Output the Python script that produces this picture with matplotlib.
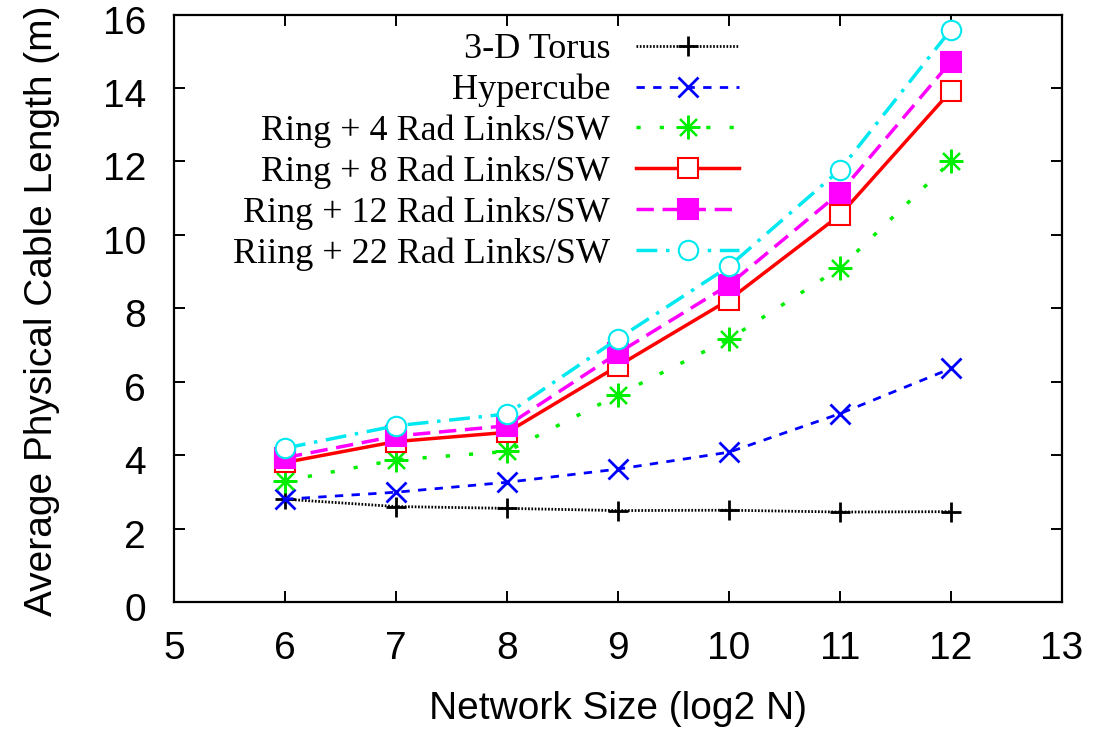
import matplotlib
matplotlib.use("Agg")
import matplotlib.pyplot as plt
import matplotlib.transforms as mtransforms

x = [6, 7, 8, 9, 10, 11, 12]
torus = [2.8, 2.6, 2.55, 2.49, 2.5, 2.45, 2.46]
hypercube = [2.8, 2.99, 3.26, 3.62, 4.08, 5.13, 6.36]
ring4 = [3.3, 3.87, 4.1, 5.64, 7.16, 9.1, 12.0]
ring8 = [3.8, 4.37, 4.62, 6.43, 8.23, 10.54, 13.92]
ring12 = [3.93, 4.52, 4.8, 6.78, 8.64, 11.15, 14.72]
ring22 = [4.19, 4.8, 5.12, 7.17, 9.14, 11.77, 15.59]

labels = ["3-D Torus", "Hypercube", "Ring + 4 Rad Links/SW",
          "Ring + 8 Rad Links/SW", "Ring + 12 Rad Links/SW",
          "Riing + 22 Rad Links/SW"]
xticks = [5, 6, 7, 8, 9, 10, 11, 12, 13]
yticks = [0, 2, 4, 6, 8, 10, 12, 14, 16]

fig = plt.figure(figsize=(10.99, 7.29), dpi=100)
ax = fig.add_axes([174/1099, 1 - 602/729, (1062 - 174)/1099, (602 - 14.5)/729])

lw = 2.0
ms = 14
ax.plot(x, torus, color="black", linestyle=(0, (0.6, 0.6)), lw=lw,
        marker="+", ms=ms + 1, mew=2.0, label=labels[0])
ax.plot(x, hypercube, color="#0000ff", linestyle=(0, (3, 3)), lw=lw,
        marker="x", ms=ms, mew=2.0, label=labels[1])
ax.plot(x, ring4, color="#00ee00", linestyle=(0, (1.2, 5.5)), lw=lw + 0.5,
        marker=(8, 2, 0), ms=ms + 3, mew=1.6, label=labels[2])
ax.plot(x, ring8, color="#ff0000", linestyle="-", lw=lw + 0.5,
        marker="s", ms=ms, mfc="white", mec="#ff0000", mew=1.5, label=labels[3])
ax.plot(x, ring12, color="#ff00ff", linestyle=(0, (5, 2.5)), lw=lw + 0.5,
        marker="s", ms=ms, mfc="#ff00ff", mec="#ff00ff", mew=1.5, label=labels[4])
ax.plot(x, ring22, color="#00e8f0", linestyle=(0, (6, 2.5, 1, 2.5)), lw=lw + 0.5,
        marker="o", ms=ms, mfc="white", mec="#00e8f0", mew=1.5, label=labels[5])

ax.set_xlim(5, 13)
ax.set_ylim(0, 16)
ax.set_xticks(xticks)
ax.set_yticks(yticks)
for s in ax.spines.values():
    s.set_linewidth(1.6)
tickfont = "Liberation Sans"
ax.tick_params(direction="in", length=8, width=1.4, top=True, right=True,
               labelsize=28)
ax.tick_params(axis="x", pad=21)
ax.tick_params(axis="y", pad=20)
shift = mtransforms.ScaledTranslation(0, -5/100, fig.dpi_scale_trans)
for t in ax.get_xticklabels() + ax.get_yticklabels():
    t.set_fontfamily(tickfont)
for t in ax.get_yticklabels():
    t.set_transform(t.get_transform() + shift)

ax.set_xlabel("Network Size (log2 N)", fontsize=28, fontfamily=tickfont)
ax.set_ylabel("Average Physical Cable Length (m)", fontsize=28, fontfamily=tickfont)
ax.xaxis.set_label_coords(0.5, (602 - 691) / 587.5)
ax.yaxis.set_label_coords((60 - 174) / 888, 0.495)

leg = ax.legend(loc="upper right", bbox_to_anchor=(739/1099, 1 - 33/729),
                bbox_transform=fig.transFigure, frameon=False, markerfirst=False,
                numpoints=1, handlelength=2.85, handletextpad=0.72,
                labelspacing=0.205, borderpad=0, borderaxespad=0,
                prop={"family": "Liberation Serif", "size": 26})

fig.savefig("out.png", dpi=100)
